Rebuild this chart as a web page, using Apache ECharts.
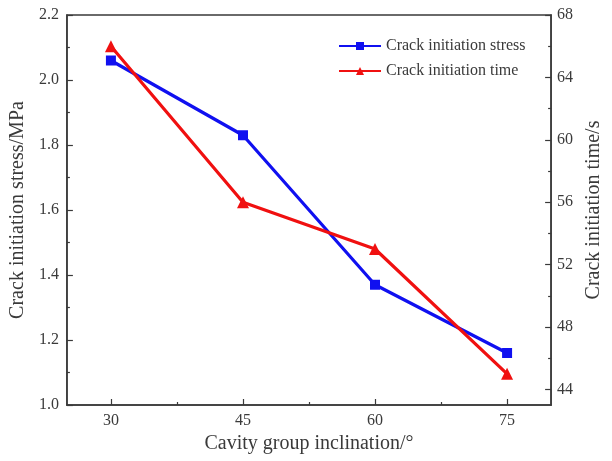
<!DOCTYPE html>
<html>
<head>
<meta charset="utf-8">
<script src="https://cdn.jsdelivr.net/npm/echarts@6/dist/echarts.min.js"></script>
<style>
  html, body { margin: 0; padding: 0; background: #fff; }
  #chart { width: 612px; height: 461px; }
</style>
</head>
<body>
<div id="chart"></div>
<script>
// Cavity group inclination (degrees)
const inclinations = [30, 45, 60, 75];
// Crack initiation stress (MPa), left axis
const stressValues = [2.06, 1.83, 1.37, 1.16];
// Crack initiation time (s), right axis
const timeValues = [66, 56, 53, 45];
// Axis tick positions
const xMajorTicks = [30, 45, 60, 75];
const xMinorTicks = [37.5, 52.5, 67.5];
const timeMajorTicks = [44, 48, 52, 56, 60, 64, 68];
const timeMinorTicks = [46, 50, 54, 58, 62, 66];

const FONT = '"Liberation Serif", "Times New Roman", serif';
const AXIS_COLOR = '#3a3a3a';
const TEXT_COLOR = '#3a3a3a';

const chart = echarts.init(document.getElementById('chart'));

const axisLine = { show: true, onZero: false, lineStyle: { color: AXIS_COLOR, width: 1.5 } };

chart.setOption({
  animation: false,
  backgroundColor: '#fff',
  grid: {
    left: 65, right: 59, top: 15, bottom: 56,
    show: true, borderColor: AXIS_COLOR, borderWidth: 1.5
  },
  legend: {
    orient: 'vertical',
    left: 333, top: 33,
    itemWidth: 42, itemHeight: 10, itemGap: 9,
    textStyle: { fontFamily: FONT, fontSize: 16, color: TEXT_COLOR },
    data: ['Crack initiation stress', 'Crack initiation time']
  },
  xAxis: [
    {
      type: 'value', min: 25, max: 80,
      name: 'Cavity group inclination/°',
      nameLocation: 'middle', nameGap: 26,
      nameTextStyle: { fontFamily: FONT, fontSize: 20, color: TEXT_COLOR },
      axisLine: axisLine,
      axisTick: { show: true, inside: true, length: 6, customValues: xMajorTicks, lineStyle: { color: AXIS_COLOR, width: 1.2 } },
      axisLabel: { customValues: xMajorTicks, margin: 8, fontFamily: FONT, fontSize: 16, color: TEXT_COLOR },
      splitLine: { show: false }
    },
    {
      type: 'value', min: 25, max: 80, position: 'bottom',
      axisLine: { show: false },
      axisTick: { show: true, inside: true, length: 3, customValues: xMinorTicks, lineStyle: { color: AXIS_COLOR, width: 1.2 } },
      axisLabel: { show: false },
      splitLine: { show: false }
    }
  ],
  yAxis: [
    {
      type: 'value', min: 1.0, max: 2.2, interval: 0.2, position: 'left',
      name: 'Crack initiation stress/MPa',
      nameLocation: 'middle', nameGap: 32, nameRotate: 90,
      nameTextStyle: { fontFamily: FONT, fontSize: 20, color: TEXT_COLOR },
      axisLine: axisLine,
      axisTick: { show: true, inside: true, length: 6, lineStyle: { color: AXIS_COLOR, width: 1.2 } },
      minorTick: { show: true, splitNumber: 2, length: 3, lineStyle: { color: AXIS_COLOR, width: 1.2 } },
      axisLabel: { margin: 8, fontFamily: FONT, fontSize: 16, color: TEXT_COLOR, formatter: v => v.toFixed(1) },
      splitLine: { show: false }
    },
    {
      type: 'value', min: 43, max: 68, position: 'right',
      name: 'Crack initiation time/s',
      nameLocation: 'middle', nameGap: 29, nameRotate: 90,
      nameTextStyle: { fontFamily: FONT, fontSize: 20, color: TEXT_COLOR },
      axisLine: axisLine,
      axisTick: { show: true, inside: true, length: 6, customValues: timeMajorTicks, lineStyle: { color: AXIS_COLOR, width: 1.2 } },
      axisLabel: { customValues: timeMajorTicks, margin: 6, fontFamily: FONT, fontSize: 16, color: TEXT_COLOR },
      splitLine: { show: false }
    },
    {
      type: 'value', min: 43, max: 68, position: 'right',
      axisLine: { show: false },
      axisTick: { show: true, inside: true, length: 3, customValues: timeMinorTicks, lineStyle: { color: AXIS_COLOR, width: 1.2 } },
      axisLabel: { show: false },
      splitLine: { show: false }
    }
  ],
  series: [
    {
      name: 'Crack initiation stress',
      type: 'line',
      xAxisIndex: 0, yAxisIndex: 0,
      data: inclinations.map((x, i) => [x, stressValues[i]]),
      symbol: 'rect', symbolSize: 10,
      lineStyle: { color: '#1010f0', width: 3.2 },
      itemStyle: { color: '#1010f0' }
    },
    {
      name: 'Crack initiation time',
      type: 'line',
      xAxisIndex: 0, yAxisIndex: 1,
      data: inclinations.map((x, i) => [x, timeValues[i]]),
      symbol: 'triangle', symbolSize: 12,
      lineStyle: { color: '#f01010', width: 3.2 },
      itemStyle: { color: '#f01010' }
    }
  ]
});
</script>
</body>
</html>
